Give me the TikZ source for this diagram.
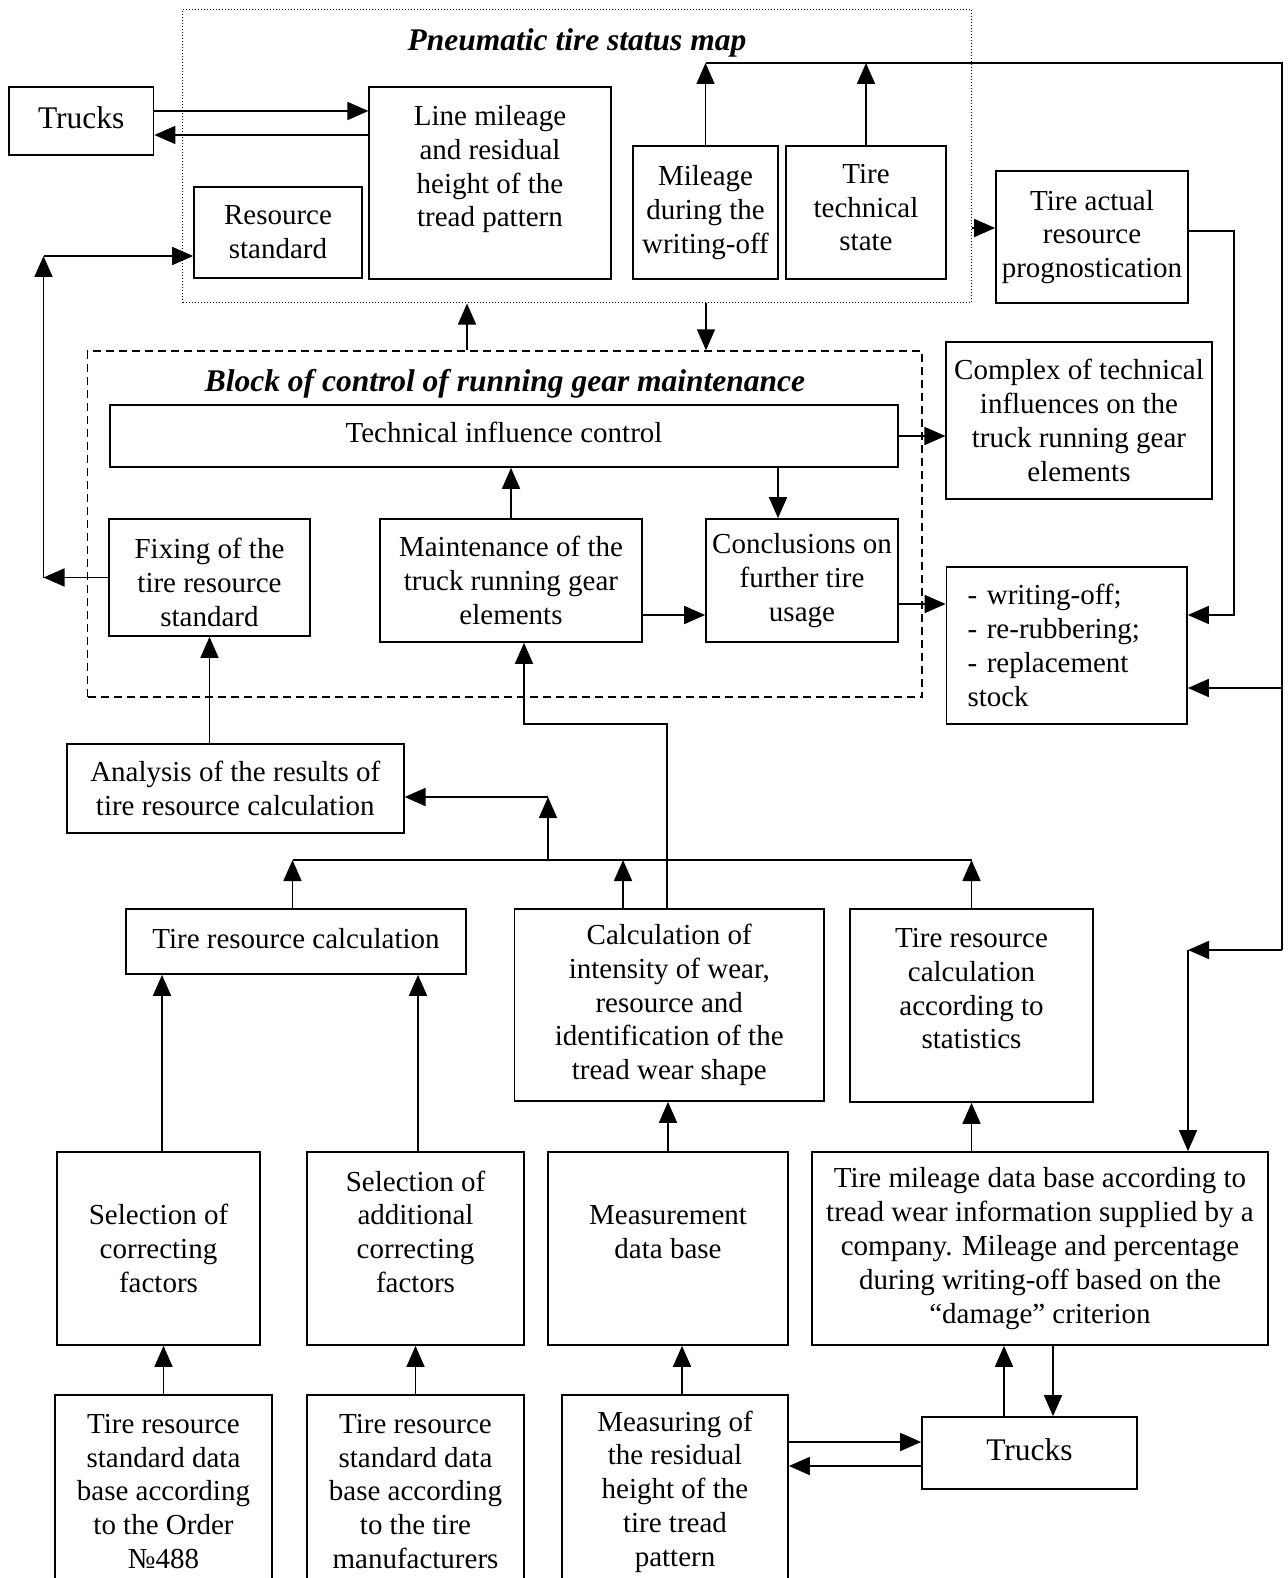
\documentclass[tikz,border=0pt]{standalone}
\usepackage{fontspec}
\setmainfont{Liberation Serif}
\usetikzlibrary{arrows.meta,calc}
\begin{document}
\begin{tikzpicture}[x=1pt,y=-1pt,
  box/.style={draw, line width=1.7pt, align=center, inner sep=2pt, font=\fontsize{29}{33.8}\selectfont},
  big/.style={font=\fontsize{31.5}{36}\selectfont},
  ttl/.style={font=\fontsize{31.5}{36}\selectfont\bfseries\itshape, inner sep=0pt},
  arr/.style={line width=1.7pt, -{Triangle[length=21pt,width=18pt]}},
  ln/.style={line width=1.7pt},
  mapbox/.style={draw, line width=1pt, dotted, inner sep=0pt},
  blockbox/.style={draw, line width=1.4pt, dash pattern=on 8pt off 5pt, inner sep=0pt}]
\useasboundingbox (0,0) rectangle (1287,1578);
\clip (0,0) rectangle (1287,1578);
\fill[white] (0,0) rectangle (1287,1578);

% frames
\node[mapbox, minimum width=788.5pt, minimum height=293.5pt] (map) at (576.75,156.25) {};
\node[ttl] (mapTitle) at (577,43) {Pneumatic tire status map};
\node[blockbox, minimum width=834.5pt, minimum height=346pt] (block) at (504.75,524) {};
\node[ttl] (blockTitle) at (505,384) {Block of control of running gear maintenance};

% top row
\node[box, big, minimum width=144.5pt, minimum height=68pt] (trucksT) at (81.25,121) {\strut Trucks};
\node[box, minimum width=241.5pt, minimum height=192pt] (lineM) at (490,183) {Line mileage\\and residual\\height of the\\tread pattern\\ \mbox{}};
\node[box, minimum width=168pt, minimum height=91pt] (resStd) at (278,232.5) {Resource\\standard};
\node[box, minimum width=145pt, minimum height=133pt] (mileW) at (705.5,212.5) {Mileage\\during the\\writing-off};
\node[box, minimum width=160pt, minimum height=133pt] (techSt) at (866,212.5) {Tire\\technical\\state\strut};
\node[box, minimum width=192pt, minimum height=132pt] (actual) at (1092,237) {Tire actual\\resource\\prognostication};

% block
\node[box, minimum width=788pt, minimum height=62pt] (tic) at (504,436) {\strut Technical influence control};
\node[box, minimum width=265.5pt, minimum height=157pt] (complex) at (1079,420.5) {Complex of technical\\influences on the\\truck running gear\\elements};
\node[box, minimum width=201pt, minimum height=117pt] (fixing) at (209.5,577.5) {\rule{0pt}{30pt}Fixing of the\\tire resource\\standard};
\node[box, minimum width=262pt, minimum height=123pt] (maint) at (511,580.5) {Maintenance of the\\truck running gear\\elements};
\node[box, minimum width=192pt, minimum height=123pt] (concl) at (802,580.5) {Conclusions on\\further tire\\usage};
\node[box, align=left, text width=198.5pt, inner xsep=21pt, minimum width=240.5pt, minimum height=157pt] (wo) at (1066.75,645.5) {- writing-off;\\- re-rubbering;\\- replacement\\stock};

% lower
\node[box, minimum width=337pt, minimum height=89pt] (analysis) at (235.25,788.5) {Analysis of the results of\\tire resource calculation};
\node[box, minimum width=340pt, minimum height=65pt] (trc) at (296,941.5) {\strut Tire resource calculation};
\node[box, minimum width=309.5pt, minimum height=192pt] (calcI) at (669.25,1005) {Calculation of\\intensity of wear,\\resource and\\identification of the\\tread wear shape};
\node[box, minimum width=243pt, minimum height=193pt] (stats) at (971.5,1005.5) {Tire resource\\calculation\\according to\\statistics\\ \mbox{}};
\node[box, minimum width=203pt, minimum height=193pt] (selA) at (158.5,1248.5) {Selection of\\correcting\\factors};
\node[box, minimum width=217pt, minimum height=193pt] (selB) at (415.5,1248.5) {Selection of\\additional\\correcting\\factors\\ \mbox{}};
\node[box, minimum width=240pt, minimum height=193pt] (measDB) at (668,1248.5) {Measurement\\data base\\ \mbox{}};
\node[box, minimum width=456pt, minimum height=193pt] (mileDB) at (1040,1248.5) {Tire mileage data base according to\\tread wear information supplied by a\\company. Mileage and percentage\\during writing-off based on the\\“damage” criterion};
\node[box, minimum width=217pt, minimum height=193pt] (orderDB) at (163.5,1491.5) {Tire resource\\standard data\\base according\\to the Order\\№488};
\node[box, minimum width=217pt, minimum height=193pt] (manufDB) at (415.5,1491.5) {Tire resource\\standard data\\base according\\to the tire\\manufacturers};
\node[box, minimum width=226pt, minimum height=193pt] (measuring) at (675,1491.5) {Measuring of\\the residual\\height of the\\tire tread\\pattern};
\node[box, big, minimum width=215pt, minimum height=72pt] (trucksB) at (1029.5,1453) {\strut Trucks};

% coordinates
\coordinate (a1) at ($(trucksT.east)+(0,-10)$);
\coordinate (a2) at ($(trucksT.east)+(0,14)$);
\coordinate (lTop) at (43.5,256);
\coordinate (lBot) at (lTop |- fixing.west);
\coordinate (rTop) at (1282,63);
\coordinate (rMid) at (1282,688);
\coordinate (rBot) at (1282,950);
\coordinate (mc) at (1188,950);
\coordinate (b1) at ($(actual.west)+(0,-9)$);
\coordinate (b3) at ($(actual.east)+(0,-6)$);
\coordinate (b4) at (1234,615);
\coordinate (u467) at (467,0);
\coordinate (d706) at (706,0);
\coordinate (x778) at (778,0);
\coordinate (m1) at ($(maint.east)+(0,34.5)$);
\coordinate (m2) at ($(concl.east)+(0,23.5)$);
\coordinate (hL) at (292.5,860);
\coordinate (hR) at (972,860);
\coordinate (hM) at (548,860);
\coordinate (h2) at (623,860);
\coordinate (aIn) at (548,797);
\coordinate (k1) at (667,724);
\coordinate (k2) at (524,724);
\coordinate (s1) at (162,0);
\coordinate (s2) at (418,0);
\coordinate (s3) at (682,0);
\coordinate (t3) at ($(trucksB.west)+(0,-11)$);
\coordinate (t4) at ($(trucksB.west)+(0,13)$);
\coordinate (u1) at (1004,0);
\coordinate (u2) at (1053,0);

% top connectors
\draw[arr] (a1) -- (a1 -| lineM.west);
\draw[arr] (a2 -| lineM.west) -- (a2);
\draw[arr] (fixing.west) -- (lBot);
\draw[arr] (lBot) -- (lTop);
\draw[arr] (lTop) -- (lTop -| resStd.west);
\draw[arr] (mileW.north) -- (mileW.north |- rTop);
\draw[arr] (techSt.north) -- (techSt.north |- rTop);
\draw[ln] (mileW.north |- rTop) -- (rTop) -- (rBot);
\draw[arr] (rMid) -- (rMid -| wo.east);
\draw[arr] (rBot) -- (mc);
\draw[arr] (mc) -- (mc |- mileDB.north);
\draw[arr] (b1 -| map.east) -- (b1);
\draw[arr] (b3) -- (b3 -| b4) -- (b4) -- (b4 -| wo.east);
\draw[arr] (u467 |- block.north) -- (u467 |- map.south);
\draw[arr] (d706 |- map.south) -- (d706 |- block.north);

% block connectors
\draw[arr] (tic.east) -- (tic.east -| complex.west);
\draw[arr] (x778 |- tic.south) -- (x778 |- concl.north);
\draw[arr] (maint.north) -- (maint.north |- tic.south);
\draw[arr] (m1) -- (m1 -| concl.west);
\draw[arr] (m2) -- (m2 -| wo.west);

% lower connectors
\draw[arr] (analysis.north -| fixing.south) -- (fixing.south);
\draw[ln] (hL) -- (hR);
\draw[arr] (hL |- trc.north) -- (hL);
\draw[arr] (h2 |- calcI.north) -- (h2);
\draw[arr] (stats.north) -- (stats.north |- hR);
\draw[arr] (hM) -- (aIn);
\draw[arr] (aIn) -- (aIn -| analysis.east);
\draw[arr] (k1 |- calcI.north) -- (k1) -- (k2) -- (k2 |- maint.south);

% bottom connectors
\draw[arr] (s1 |- selA.north) -- (s1 |- trc.south);
\draw[arr] (s2 |- selB.north) -- (s2 |- trc.south);
\draw[arr] (measDB.north) -- (measDB.north |- calcI.south);
\draw[arr] (mileDB.north -| stats.south) -- (stats.south);
\draw[arr] (orderDB.north) -- (orderDB.north |- selA.south);
\draw[arr] (manufDB.north) -- (manufDB.north |- selB.south);
\draw[arr] (s3 |- measuring.north) -- (s3 |- measDB.south);
\draw[arr] (t3 -| measuring.east) -- (t3);
\draw[arr] (t4) -- (t4 -| measuring.east);
\draw[arr] (u1 |- trucksB.north) -- (u1 |- mileDB.south);
\draw[arr] (u2 |- mileDB.south) -- (u2 |- trucksB.north);
\end{tikzpicture}
\end{document}
